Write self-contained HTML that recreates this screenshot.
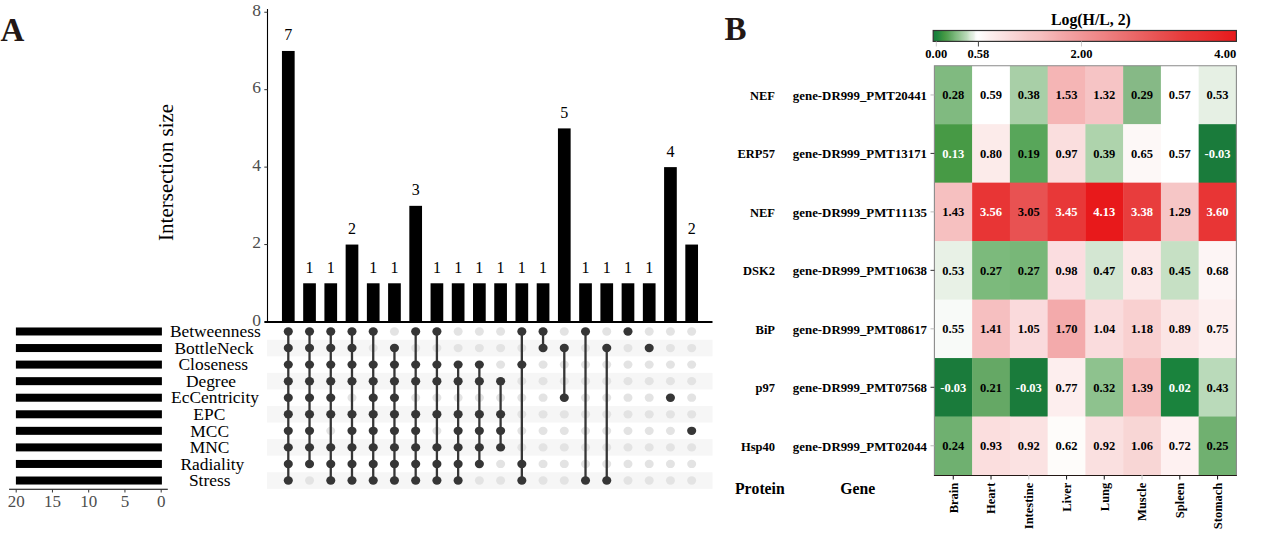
<!DOCTYPE html>
<html><head><meta charset="utf-8"><style>html,body{margin:0;padding:0;background:#fff;width:1267px;height:542px;overflow:hidden}svg{display:block}text{font-kerning:none}</style></head>
<body><svg width="1267" height="542" viewBox="0 0 1267 542">
<rect width="1267" height="542" fill="#fff"/>
<text x="0.5" y="40.5" style="font-family:'Liberation Serif',serif;font-weight:bold;font-size:33px" fill="#231815">A</text>
<line x1="267.5" y1="9" x2="267.5" y2="322.0" stroke="#000" stroke-width="1.1"/>
<line x1="264.3" y1="322.00" x2="267.5" y2="322.00" stroke="#333" stroke-width="1"/>
<text x="261" y="325.80" text-anchor="end" style="font-family:'Liberation Serif',serif;font-size:17.5px" fill="#4d4d4d">0</text>
<line x1="264.3" y1="244.56" x2="267.5" y2="244.56" stroke="#333" stroke-width="1"/>
<text x="261" y="248.36" text-anchor="end" style="font-family:'Liberation Serif',serif;font-size:17.5px" fill="#4d4d4d">2</text>
<line x1="264.3" y1="167.12" x2="267.5" y2="167.12" stroke="#333" stroke-width="1"/>
<text x="261" y="170.92" text-anchor="end" style="font-family:'Liberation Serif',serif;font-size:17.5px" fill="#4d4d4d">4</text>
<line x1="264.3" y1="89.68" x2="267.5" y2="89.68" stroke="#333" stroke-width="1"/>
<text x="261" y="93.48" text-anchor="end" style="font-family:'Liberation Serif',serif;font-size:17.5px" fill="#4d4d4d">6</text>
<line x1="264.3" y1="12.24" x2="267.5" y2="12.24" stroke="#333" stroke-width="1"/>
<text x="261" y="16.04" text-anchor="end" style="font-family:'Liberation Serif',serif;font-size:17.5px" fill="#4d4d4d">8</text>
<rect x="281.95" y="50.96" width="12.7" height="271.04" fill="#000"/>
<text x="288.30" y="40.46" text-anchor="middle" style="font-family:'Liberation Serif',serif;font-size:16px" fill="#000">7</text>
<rect x="303.18" y="283.28" width="12.7" height="38.72" fill="#000"/>
<text x="309.53" y="272.78" text-anchor="middle" style="font-family:'Liberation Serif',serif;font-size:16px" fill="#000">1</text>
<rect x="324.41" y="283.28" width="12.7" height="38.72" fill="#000"/>
<text x="330.76" y="272.78" text-anchor="middle" style="font-family:'Liberation Serif',serif;font-size:16px" fill="#000">1</text>
<rect x="345.64" y="244.56" width="12.7" height="77.44" fill="#000"/>
<text x="351.99" y="234.06" text-anchor="middle" style="font-family:'Liberation Serif',serif;font-size:16px" fill="#000">2</text>
<rect x="366.87" y="283.28" width="12.7" height="38.72" fill="#000"/>
<text x="373.22" y="272.78" text-anchor="middle" style="font-family:'Liberation Serif',serif;font-size:16px" fill="#000">1</text>
<rect x="388.10" y="283.28" width="12.7" height="38.72" fill="#000"/>
<text x="394.45" y="272.78" text-anchor="middle" style="font-family:'Liberation Serif',serif;font-size:16px" fill="#000">1</text>
<rect x="409.33" y="205.84" width="12.7" height="116.16" fill="#000"/>
<text x="415.68" y="195.34" text-anchor="middle" style="font-family:'Liberation Serif',serif;font-size:16px" fill="#000">3</text>
<rect x="430.56" y="283.28" width="12.7" height="38.72" fill="#000"/>
<text x="436.91" y="272.78" text-anchor="middle" style="font-family:'Liberation Serif',serif;font-size:16px" fill="#000">1</text>
<rect x="451.79" y="283.28" width="12.7" height="38.72" fill="#000"/>
<text x="458.14" y="272.78" text-anchor="middle" style="font-family:'Liberation Serif',serif;font-size:16px" fill="#000">1</text>
<rect x="473.02" y="283.28" width="12.7" height="38.72" fill="#000"/>
<text x="479.37" y="272.78" text-anchor="middle" style="font-family:'Liberation Serif',serif;font-size:16px" fill="#000">1</text>
<rect x="494.25" y="283.28" width="12.7" height="38.72" fill="#000"/>
<text x="500.60" y="272.78" text-anchor="middle" style="font-family:'Liberation Serif',serif;font-size:16px" fill="#000">1</text>
<rect x="515.48" y="283.28" width="12.7" height="38.72" fill="#000"/>
<text x="521.83" y="272.78" text-anchor="middle" style="font-family:'Liberation Serif',serif;font-size:16px" fill="#000">1</text>
<rect x="536.71" y="283.28" width="12.7" height="38.72" fill="#000"/>
<text x="543.06" y="272.78" text-anchor="middle" style="font-family:'Liberation Serif',serif;font-size:16px" fill="#000">1</text>
<rect x="557.94" y="128.40" width="12.7" height="193.60" fill="#000"/>
<text x="564.29" y="117.90" text-anchor="middle" style="font-family:'Liberation Serif',serif;font-size:16px" fill="#000">5</text>
<rect x="579.17" y="283.28" width="12.7" height="38.72" fill="#000"/>
<text x="585.52" y="272.78" text-anchor="middle" style="font-family:'Liberation Serif',serif;font-size:16px" fill="#000">1</text>
<rect x="600.40" y="283.28" width="12.7" height="38.72" fill="#000"/>
<text x="606.75" y="272.78" text-anchor="middle" style="font-family:'Liberation Serif',serif;font-size:16px" fill="#000">1</text>
<rect x="621.63" y="283.28" width="12.7" height="38.72" fill="#000"/>
<text x="627.98" y="272.78" text-anchor="middle" style="font-family:'Liberation Serif',serif;font-size:16px" fill="#000">1</text>
<rect x="642.86" y="283.28" width="12.7" height="38.72" fill="#000"/>
<text x="649.21" y="272.78" text-anchor="middle" style="font-family:'Liberation Serif',serif;font-size:16px" fill="#000">1</text>
<rect x="664.09" y="167.12" width="12.7" height="154.88" fill="#000"/>
<text x="670.44" y="156.62" text-anchor="middle" style="font-family:'Liberation Serif',serif;font-size:16px" fill="#000">4</text>
<rect x="685.32" y="244.56" width="12.7" height="77.44" fill="#000"/>
<text x="691.67" y="234.06" text-anchor="middle" style="font-family:'Liberation Serif',serif;font-size:16px" fill="#000">2</text>
<line x1="264.5" y1="322.0" x2="712.5" y2="322.0" stroke="#000" stroke-width="2"/>
<text transform="translate(172.6,172.4) rotate(-90)" text-anchor="middle" style="font-family:'Liberation Serif',serif;font-size:21px" fill="#000">Intersection size</text>
<rect x="267" y="339.76" width="445.5" height="16.56" fill="#f6f6f6"/>
<rect x="267" y="372.88" width="445.5" height="16.56" fill="#f6f6f6"/>
<rect x="267" y="406.00" width="445.5" height="16.56" fill="#f6f6f6"/>
<rect x="267" y="439.12" width="445.5" height="16.56" fill="#f6f6f6"/>
<rect x="267" y="472.24" width="445.5" height="16.56" fill="#f6f6f6"/>
<ellipse cx="309.53" cy="480.52" rx="4.5" ry="4.15" fill="#e3e3e3"/>
<ellipse cx="330.76" cy="430.84" rx="4.5" ry="4.15" fill="#e3e3e3"/>
<ellipse cx="351.99" cy="397.72" rx="4.5" ry="4.15" fill="#e3e3e3"/>
<ellipse cx="373.22" cy="348.04" rx="4.5" ry="4.15" fill="#e3e3e3"/>
<ellipse cx="394.45" cy="331.48" rx="4.5" ry="4.15" fill="#e3e3e3"/>
<ellipse cx="415.68" cy="348.04" rx="4.5" ry="4.15" fill="#e3e3e3"/>
<ellipse cx="415.68" cy="397.72" rx="4.5" ry="4.15" fill="#e3e3e3"/>
<ellipse cx="436.91" cy="348.04" rx="4.5" ry="4.15" fill="#e3e3e3"/>
<ellipse cx="436.91" cy="397.72" rx="4.5" ry="4.15" fill="#e3e3e3"/>
<ellipse cx="436.91" cy="430.84" rx="4.5" ry="4.15" fill="#e3e3e3"/>
<ellipse cx="458.14" cy="331.48" rx="4.5" ry="4.15" fill="#e3e3e3"/>
<ellipse cx="458.14" cy="348.04" rx="4.5" ry="4.15" fill="#e3e3e3"/>
<ellipse cx="458.14" cy="397.72" rx="4.5" ry="4.15" fill="#e3e3e3"/>
<ellipse cx="479.37" cy="331.48" rx="4.5" ry="4.15" fill="#e3e3e3"/>
<ellipse cx="479.37" cy="348.04" rx="4.5" ry="4.15" fill="#e3e3e3"/>
<ellipse cx="479.37" cy="397.72" rx="4.5" ry="4.15" fill="#e3e3e3"/>
<ellipse cx="479.37" cy="480.52" rx="4.5" ry="4.15" fill="#e3e3e3"/>
<ellipse cx="500.60" cy="331.48" rx="4.5" ry="4.15" fill="#e3e3e3"/>
<ellipse cx="500.60" cy="348.04" rx="4.5" ry="4.15" fill="#e3e3e3"/>
<ellipse cx="500.60" cy="364.60" rx="4.5" ry="4.15" fill="#e3e3e3"/>
<ellipse cx="500.60" cy="397.72" rx="4.5" ry="4.15" fill="#e3e3e3"/>
<ellipse cx="500.60" cy="463.96" rx="4.5" ry="4.15" fill="#e3e3e3"/>
<ellipse cx="500.60" cy="480.52" rx="4.5" ry="4.15" fill="#e3e3e3"/>
<ellipse cx="521.83" cy="348.04" rx="4.5" ry="4.15" fill="#e3e3e3"/>
<ellipse cx="521.83" cy="381.16" rx="4.5" ry="4.15" fill="#e3e3e3"/>
<ellipse cx="521.83" cy="397.72" rx="4.5" ry="4.15" fill="#e3e3e3"/>
<ellipse cx="521.83" cy="414.28" rx="4.5" ry="4.15" fill="#e3e3e3"/>
<ellipse cx="521.83" cy="430.84" rx="4.5" ry="4.15" fill="#e3e3e3"/>
<ellipse cx="521.83" cy="447.40" rx="4.5" ry="4.15" fill="#e3e3e3"/>
<ellipse cx="543.06" cy="364.60" rx="4.5" ry="4.15" fill="#e3e3e3"/>
<ellipse cx="543.06" cy="381.16" rx="4.5" ry="4.15" fill="#e3e3e3"/>
<ellipse cx="543.06" cy="397.72" rx="4.5" ry="4.15" fill="#e3e3e3"/>
<ellipse cx="543.06" cy="414.28" rx="4.5" ry="4.15" fill="#e3e3e3"/>
<ellipse cx="543.06" cy="430.84" rx="4.5" ry="4.15" fill="#e3e3e3"/>
<ellipse cx="543.06" cy="447.40" rx="4.5" ry="4.15" fill="#e3e3e3"/>
<ellipse cx="543.06" cy="463.96" rx="4.5" ry="4.15" fill="#e3e3e3"/>
<ellipse cx="543.06" cy="480.52" rx="4.5" ry="4.15" fill="#e3e3e3"/>
<ellipse cx="564.29" cy="331.48" rx="4.5" ry="4.15" fill="#e3e3e3"/>
<ellipse cx="564.29" cy="364.60" rx="4.5" ry="4.15" fill="#e3e3e3"/>
<ellipse cx="564.29" cy="381.16" rx="4.5" ry="4.15" fill="#e3e3e3"/>
<ellipse cx="564.29" cy="414.28" rx="4.5" ry="4.15" fill="#e3e3e3"/>
<ellipse cx="564.29" cy="430.84" rx="4.5" ry="4.15" fill="#e3e3e3"/>
<ellipse cx="564.29" cy="447.40" rx="4.5" ry="4.15" fill="#e3e3e3"/>
<ellipse cx="564.29" cy="463.96" rx="4.5" ry="4.15" fill="#e3e3e3"/>
<ellipse cx="564.29" cy="480.52" rx="4.5" ry="4.15" fill="#e3e3e3"/>
<ellipse cx="585.52" cy="348.04" rx="4.5" ry="4.15" fill="#e3e3e3"/>
<ellipse cx="585.52" cy="364.60" rx="4.5" ry="4.15" fill="#e3e3e3"/>
<ellipse cx="585.52" cy="381.16" rx="4.5" ry="4.15" fill="#e3e3e3"/>
<ellipse cx="585.52" cy="397.72" rx="4.5" ry="4.15" fill="#e3e3e3"/>
<ellipse cx="585.52" cy="414.28" rx="4.5" ry="4.15" fill="#e3e3e3"/>
<ellipse cx="585.52" cy="430.84" rx="4.5" ry="4.15" fill="#e3e3e3"/>
<ellipse cx="585.52" cy="447.40" rx="4.5" ry="4.15" fill="#e3e3e3"/>
<ellipse cx="585.52" cy="463.96" rx="4.5" ry="4.15" fill="#e3e3e3"/>
<ellipse cx="606.75" cy="331.48" rx="4.5" ry="4.15" fill="#e3e3e3"/>
<ellipse cx="606.75" cy="364.60" rx="4.5" ry="4.15" fill="#e3e3e3"/>
<ellipse cx="606.75" cy="381.16" rx="4.5" ry="4.15" fill="#e3e3e3"/>
<ellipse cx="606.75" cy="397.72" rx="4.5" ry="4.15" fill="#e3e3e3"/>
<ellipse cx="606.75" cy="414.28" rx="4.5" ry="4.15" fill="#e3e3e3"/>
<ellipse cx="606.75" cy="430.84" rx="4.5" ry="4.15" fill="#e3e3e3"/>
<ellipse cx="606.75" cy="447.40" rx="4.5" ry="4.15" fill="#e3e3e3"/>
<ellipse cx="606.75" cy="463.96" rx="4.5" ry="4.15" fill="#e3e3e3"/>
<ellipse cx="627.98" cy="348.04" rx="4.5" ry="4.15" fill="#e3e3e3"/>
<ellipse cx="627.98" cy="364.60" rx="4.5" ry="4.15" fill="#e3e3e3"/>
<ellipse cx="627.98" cy="381.16" rx="4.5" ry="4.15" fill="#e3e3e3"/>
<ellipse cx="627.98" cy="397.72" rx="4.5" ry="4.15" fill="#e3e3e3"/>
<ellipse cx="627.98" cy="414.28" rx="4.5" ry="4.15" fill="#e3e3e3"/>
<ellipse cx="627.98" cy="430.84" rx="4.5" ry="4.15" fill="#e3e3e3"/>
<ellipse cx="627.98" cy="447.40" rx="4.5" ry="4.15" fill="#e3e3e3"/>
<ellipse cx="627.98" cy="463.96" rx="4.5" ry="4.15" fill="#e3e3e3"/>
<ellipse cx="627.98" cy="480.52" rx="4.5" ry="4.15" fill="#e3e3e3"/>
<ellipse cx="649.21" cy="331.48" rx="4.5" ry="4.15" fill="#e3e3e3"/>
<ellipse cx="649.21" cy="364.60" rx="4.5" ry="4.15" fill="#e3e3e3"/>
<ellipse cx="649.21" cy="381.16" rx="4.5" ry="4.15" fill="#e3e3e3"/>
<ellipse cx="649.21" cy="397.72" rx="4.5" ry="4.15" fill="#e3e3e3"/>
<ellipse cx="649.21" cy="414.28" rx="4.5" ry="4.15" fill="#e3e3e3"/>
<ellipse cx="649.21" cy="430.84" rx="4.5" ry="4.15" fill="#e3e3e3"/>
<ellipse cx="649.21" cy="447.40" rx="4.5" ry="4.15" fill="#e3e3e3"/>
<ellipse cx="649.21" cy="463.96" rx="4.5" ry="4.15" fill="#e3e3e3"/>
<ellipse cx="649.21" cy="480.52" rx="4.5" ry="4.15" fill="#e3e3e3"/>
<ellipse cx="670.44" cy="331.48" rx="4.5" ry="4.15" fill="#e3e3e3"/>
<ellipse cx="670.44" cy="348.04" rx="4.5" ry="4.15" fill="#e3e3e3"/>
<ellipse cx="670.44" cy="364.60" rx="4.5" ry="4.15" fill="#e3e3e3"/>
<ellipse cx="670.44" cy="381.16" rx="4.5" ry="4.15" fill="#e3e3e3"/>
<ellipse cx="670.44" cy="414.28" rx="4.5" ry="4.15" fill="#e3e3e3"/>
<ellipse cx="670.44" cy="430.84" rx="4.5" ry="4.15" fill="#e3e3e3"/>
<ellipse cx="670.44" cy="447.40" rx="4.5" ry="4.15" fill="#e3e3e3"/>
<ellipse cx="670.44" cy="463.96" rx="4.5" ry="4.15" fill="#e3e3e3"/>
<ellipse cx="670.44" cy="480.52" rx="4.5" ry="4.15" fill="#e3e3e3"/>
<ellipse cx="691.67" cy="331.48" rx="4.5" ry="4.15" fill="#e3e3e3"/>
<ellipse cx="691.67" cy="348.04" rx="4.5" ry="4.15" fill="#e3e3e3"/>
<ellipse cx="691.67" cy="364.60" rx="4.5" ry="4.15" fill="#e3e3e3"/>
<ellipse cx="691.67" cy="381.16" rx="4.5" ry="4.15" fill="#e3e3e3"/>
<ellipse cx="691.67" cy="397.72" rx="4.5" ry="4.15" fill="#e3e3e3"/>
<ellipse cx="691.67" cy="414.28" rx="4.5" ry="4.15" fill="#e3e3e3"/>
<ellipse cx="691.67" cy="447.40" rx="4.5" ry="4.15" fill="#e3e3e3"/>
<ellipse cx="691.67" cy="463.96" rx="4.5" ry="4.15" fill="#e3e3e3"/>
<ellipse cx="691.67" cy="480.52" rx="4.5" ry="4.15" fill="#e3e3e3"/>
<line x1="288.30" y1="331.48" x2="288.30" y2="480.52" stroke="#363636" stroke-width="2.3"/>
<ellipse cx="288.30" cy="331.48" rx="4.55" ry="4.2" fill="#363636"/>
<ellipse cx="288.30" cy="348.04" rx="4.55" ry="4.2" fill="#363636"/>
<ellipse cx="288.30" cy="364.60" rx="4.55" ry="4.2" fill="#363636"/>
<ellipse cx="288.30" cy="381.16" rx="4.55" ry="4.2" fill="#363636"/>
<ellipse cx="288.30" cy="397.72" rx="4.55" ry="4.2" fill="#363636"/>
<ellipse cx="288.30" cy="414.28" rx="4.55" ry="4.2" fill="#363636"/>
<ellipse cx="288.30" cy="430.84" rx="4.55" ry="4.2" fill="#363636"/>
<ellipse cx="288.30" cy="447.40" rx="4.55" ry="4.2" fill="#363636"/>
<ellipse cx="288.30" cy="463.96" rx="4.55" ry="4.2" fill="#363636"/>
<ellipse cx="288.30" cy="480.52" rx="4.55" ry="4.2" fill="#363636"/>
<line x1="309.53" y1="331.48" x2="309.53" y2="463.96" stroke="#363636" stroke-width="2.3"/>
<ellipse cx="309.53" cy="331.48" rx="4.55" ry="4.2" fill="#363636"/>
<ellipse cx="309.53" cy="348.04" rx="4.55" ry="4.2" fill="#363636"/>
<ellipse cx="309.53" cy="364.60" rx="4.55" ry="4.2" fill="#363636"/>
<ellipse cx="309.53" cy="381.16" rx="4.55" ry="4.2" fill="#363636"/>
<ellipse cx="309.53" cy="397.72" rx="4.55" ry="4.2" fill="#363636"/>
<ellipse cx="309.53" cy="414.28" rx="4.55" ry="4.2" fill="#363636"/>
<ellipse cx="309.53" cy="430.84" rx="4.55" ry="4.2" fill="#363636"/>
<ellipse cx="309.53" cy="447.40" rx="4.55" ry="4.2" fill="#363636"/>
<ellipse cx="309.53" cy="463.96" rx="4.55" ry="4.2" fill="#363636"/>
<line x1="330.76" y1="331.48" x2="330.76" y2="480.52" stroke="#363636" stroke-width="2.3"/>
<ellipse cx="330.76" cy="331.48" rx="4.55" ry="4.2" fill="#363636"/>
<ellipse cx="330.76" cy="348.04" rx="4.55" ry="4.2" fill="#363636"/>
<ellipse cx="330.76" cy="364.60" rx="4.55" ry="4.2" fill="#363636"/>
<ellipse cx="330.76" cy="381.16" rx="4.55" ry="4.2" fill="#363636"/>
<ellipse cx="330.76" cy="397.72" rx="4.55" ry="4.2" fill="#363636"/>
<ellipse cx="330.76" cy="414.28" rx="4.55" ry="4.2" fill="#363636"/>
<ellipse cx="330.76" cy="447.40" rx="4.55" ry="4.2" fill="#363636"/>
<ellipse cx="330.76" cy="463.96" rx="4.55" ry="4.2" fill="#363636"/>
<ellipse cx="330.76" cy="480.52" rx="4.55" ry="4.2" fill="#363636"/>
<line x1="351.99" y1="331.48" x2="351.99" y2="480.52" stroke="#363636" stroke-width="2.3"/>
<ellipse cx="351.99" cy="331.48" rx="4.55" ry="4.2" fill="#363636"/>
<ellipse cx="351.99" cy="348.04" rx="4.55" ry="4.2" fill="#363636"/>
<ellipse cx="351.99" cy="364.60" rx="4.55" ry="4.2" fill="#363636"/>
<ellipse cx="351.99" cy="381.16" rx="4.55" ry="4.2" fill="#363636"/>
<ellipse cx="351.99" cy="414.28" rx="4.55" ry="4.2" fill="#363636"/>
<ellipse cx="351.99" cy="430.84" rx="4.55" ry="4.2" fill="#363636"/>
<ellipse cx="351.99" cy="447.40" rx="4.55" ry="4.2" fill="#363636"/>
<ellipse cx="351.99" cy="463.96" rx="4.55" ry="4.2" fill="#363636"/>
<ellipse cx="351.99" cy="480.52" rx="4.55" ry="4.2" fill="#363636"/>
<line x1="373.22" y1="331.48" x2="373.22" y2="480.52" stroke="#363636" stroke-width="2.3"/>
<ellipse cx="373.22" cy="331.48" rx="4.55" ry="4.2" fill="#363636"/>
<ellipse cx="373.22" cy="364.60" rx="4.55" ry="4.2" fill="#363636"/>
<ellipse cx="373.22" cy="381.16" rx="4.55" ry="4.2" fill="#363636"/>
<ellipse cx="373.22" cy="397.72" rx="4.55" ry="4.2" fill="#363636"/>
<ellipse cx="373.22" cy="414.28" rx="4.55" ry="4.2" fill="#363636"/>
<ellipse cx="373.22" cy="430.84" rx="4.55" ry="4.2" fill="#363636"/>
<ellipse cx="373.22" cy="447.40" rx="4.55" ry="4.2" fill="#363636"/>
<ellipse cx="373.22" cy="463.96" rx="4.55" ry="4.2" fill="#363636"/>
<ellipse cx="373.22" cy="480.52" rx="4.55" ry="4.2" fill="#363636"/>
<line x1="394.45" y1="348.04" x2="394.45" y2="480.52" stroke="#363636" stroke-width="2.3"/>
<ellipse cx="394.45" cy="348.04" rx="4.55" ry="4.2" fill="#363636"/>
<ellipse cx="394.45" cy="364.60" rx="4.55" ry="4.2" fill="#363636"/>
<ellipse cx="394.45" cy="381.16" rx="4.55" ry="4.2" fill="#363636"/>
<ellipse cx="394.45" cy="397.72" rx="4.55" ry="4.2" fill="#363636"/>
<ellipse cx="394.45" cy="414.28" rx="4.55" ry="4.2" fill="#363636"/>
<ellipse cx="394.45" cy="430.84" rx="4.55" ry="4.2" fill="#363636"/>
<ellipse cx="394.45" cy="447.40" rx="4.55" ry="4.2" fill="#363636"/>
<ellipse cx="394.45" cy="463.96" rx="4.55" ry="4.2" fill="#363636"/>
<ellipse cx="394.45" cy="480.52" rx="4.55" ry="4.2" fill="#363636"/>
<line x1="415.68" y1="331.48" x2="415.68" y2="480.52" stroke="#363636" stroke-width="2.3"/>
<ellipse cx="415.68" cy="331.48" rx="4.55" ry="4.2" fill="#363636"/>
<ellipse cx="415.68" cy="364.60" rx="4.55" ry="4.2" fill="#363636"/>
<ellipse cx="415.68" cy="381.16" rx="4.55" ry="4.2" fill="#363636"/>
<ellipse cx="415.68" cy="414.28" rx="4.55" ry="4.2" fill="#363636"/>
<ellipse cx="415.68" cy="430.84" rx="4.55" ry="4.2" fill="#363636"/>
<ellipse cx="415.68" cy="447.40" rx="4.55" ry="4.2" fill="#363636"/>
<ellipse cx="415.68" cy="463.96" rx="4.55" ry="4.2" fill="#363636"/>
<ellipse cx="415.68" cy="480.52" rx="4.55" ry="4.2" fill="#363636"/>
<line x1="436.91" y1="331.48" x2="436.91" y2="480.52" stroke="#363636" stroke-width="2.3"/>
<ellipse cx="436.91" cy="331.48" rx="4.55" ry="4.2" fill="#363636"/>
<ellipse cx="436.91" cy="364.60" rx="4.55" ry="4.2" fill="#363636"/>
<ellipse cx="436.91" cy="381.16" rx="4.55" ry="4.2" fill="#363636"/>
<ellipse cx="436.91" cy="414.28" rx="4.55" ry="4.2" fill="#363636"/>
<ellipse cx="436.91" cy="447.40" rx="4.55" ry="4.2" fill="#363636"/>
<ellipse cx="436.91" cy="463.96" rx="4.55" ry="4.2" fill="#363636"/>
<ellipse cx="436.91" cy="480.52" rx="4.55" ry="4.2" fill="#363636"/>
<line x1="458.14" y1="364.60" x2="458.14" y2="480.52" stroke="#363636" stroke-width="2.3"/>
<ellipse cx="458.14" cy="364.60" rx="4.55" ry="4.2" fill="#363636"/>
<ellipse cx="458.14" cy="381.16" rx="4.55" ry="4.2" fill="#363636"/>
<ellipse cx="458.14" cy="414.28" rx="4.55" ry="4.2" fill="#363636"/>
<ellipse cx="458.14" cy="430.84" rx="4.55" ry="4.2" fill="#363636"/>
<ellipse cx="458.14" cy="447.40" rx="4.55" ry="4.2" fill="#363636"/>
<ellipse cx="458.14" cy="463.96" rx="4.55" ry="4.2" fill="#363636"/>
<ellipse cx="458.14" cy="480.52" rx="4.55" ry="4.2" fill="#363636"/>
<line x1="479.37" y1="364.60" x2="479.37" y2="463.96" stroke="#363636" stroke-width="2.3"/>
<ellipse cx="479.37" cy="364.60" rx="4.55" ry="4.2" fill="#363636"/>
<ellipse cx="479.37" cy="381.16" rx="4.55" ry="4.2" fill="#363636"/>
<ellipse cx="479.37" cy="414.28" rx="4.55" ry="4.2" fill="#363636"/>
<ellipse cx="479.37" cy="430.84" rx="4.55" ry="4.2" fill="#363636"/>
<ellipse cx="479.37" cy="447.40" rx="4.55" ry="4.2" fill="#363636"/>
<ellipse cx="479.37" cy="463.96" rx="4.55" ry="4.2" fill="#363636"/>
<line x1="500.60" y1="381.16" x2="500.60" y2="447.40" stroke="#363636" stroke-width="2.3"/>
<ellipse cx="500.60" cy="381.16" rx="4.55" ry="4.2" fill="#363636"/>
<ellipse cx="500.60" cy="414.28" rx="4.55" ry="4.2" fill="#363636"/>
<ellipse cx="500.60" cy="430.84" rx="4.55" ry="4.2" fill="#363636"/>
<ellipse cx="500.60" cy="447.40" rx="4.55" ry="4.2" fill="#363636"/>
<line x1="521.83" y1="331.48" x2="521.83" y2="480.52" stroke="#363636" stroke-width="2.3"/>
<ellipse cx="521.83" cy="331.48" rx="4.55" ry="4.2" fill="#363636"/>
<ellipse cx="521.83" cy="364.60" rx="4.55" ry="4.2" fill="#363636"/>
<ellipse cx="521.83" cy="463.96" rx="4.55" ry="4.2" fill="#363636"/>
<ellipse cx="521.83" cy="480.52" rx="4.55" ry="4.2" fill="#363636"/>
<line x1="543.06" y1="331.48" x2="543.06" y2="348.04" stroke="#363636" stroke-width="2.3"/>
<ellipse cx="543.06" cy="331.48" rx="4.55" ry="4.2" fill="#363636"/>
<ellipse cx="543.06" cy="348.04" rx="4.55" ry="4.2" fill="#363636"/>
<line x1="564.29" y1="348.04" x2="564.29" y2="397.72" stroke="#363636" stroke-width="2.3"/>
<ellipse cx="564.29" cy="348.04" rx="4.55" ry="4.2" fill="#363636"/>
<ellipse cx="564.29" cy="397.72" rx="4.55" ry="4.2" fill="#363636"/>
<line x1="585.52" y1="331.48" x2="585.52" y2="480.52" stroke="#363636" stroke-width="2.3"/>
<ellipse cx="585.52" cy="331.48" rx="4.55" ry="4.2" fill="#363636"/>
<ellipse cx="585.52" cy="480.52" rx="4.55" ry="4.2" fill="#363636"/>
<line x1="606.75" y1="348.04" x2="606.75" y2="480.52" stroke="#363636" stroke-width="2.3"/>
<ellipse cx="606.75" cy="348.04" rx="4.55" ry="4.2" fill="#363636"/>
<ellipse cx="606.75" cy="480.52" rx="4.55" ry="4.2" fill="#363636"/>
<ellipse cx="627.98" cy="331.48" rx="4.55" ry="4.2" fill="#363636"/>
<ellipse cx="649.21" cy="348.04" rx="4.55" ry="4.2" fill="#363636"/>
<ellipse cx="670.44" cy="397.72" rx="4.55" ry="4.2" fill="#363636"/>
<ellipse cx="691.67" cy="430.84" rx="4.55" ry="4.2" fill="#363636"/>
<rect x="15.9" y="327.48" width="146" height="8" fill="#000"/>
<text x="215.30" y="337.18" text-anchor="middle" style="font-family:'Liberation Serif',serif;font-size:17.4px" fill="#000">Betweenness</text>
<rect x="15.9" y="344.04" width="146" height="8" fill="#000"/>
<text x="214.10" y="353.74" text-anchor="middle" style="font-family:'Liberation Serif',serif;font-size:17.4px" fill="#000">BottleNeck</text>
<rect x="15.9" y="360.60" width="146" height="8" fill="#000"/>
<text x="213.30" y="370.30" text-anchor="middle" style="font-family:'Liberation Serif',serif;font-size:17.4px" fill="#000">Closeness</text>
<rect x="15.9" y="377.16" width="146" height="8" fill="#000"/>
<text x="211.00" y="386.86" text-anchor="middle" style="font-family:'Liberation Serif',serif;font-size:17.4px" fill="#000">Degree</text>
<rect x="15.9" y="393.72" width="146" height="8" fill="#000"/>
<text x="215.00" y="403.42" text-anchor="middle" style="font-family:'Liberation Serif',serif;font-size:17.4px" fill="#000">EcCentricity</text>
<rect x="15.9" y="410.28" width="146" height="8" fill="#000"/>
<text x="209.30" y="419.98" text-anchor="middle" style="font-family:'Liberation Serif',serif;font-size:17.4px" fill="#000">EPC</text>
<rect x="15.9" y="426.84" width="146" height="8" fill="#000"/>
<text x="209.70" y="436.54" text-anchor="middle" style="font-family:'Liberation Serif',serif;font-size:17.4px" fill="#000">MCC</text>
<rect x="15.9" y="443.40" width="146" height="8" fill="#000"/>
<text x="209.50" y="453.10" text-anchor="middle" style="font-family:'Liberation Serif',serif;font-size:17.4px" fill="#000">MNC</text>
<rect x="15.9" y="459.96" width="146" height="8" fill="#000"/>
<text x="212.40" y="469.66" text-anchor="middle" style="font-family:'Liberation Serif',serif;font-size:17.4px" fill="#000">Radiality</text>
<rect x="15.9" y="476.52" width="146" height="8" fill="#000"/>
<text x="209.70" y="486.22" text-anchor="middle" style="font-family:'Liberation Serif',serif;font-size:17.4px" fill="#000">Stress</text>
<line x1="9.1" y1="489.3" x2="167.8" y2="489.3" stroke="#000" stroke-width="1.1"/>
<line x1="16.20" y1="489.3" x2="16.20" y2="492.5" stroke="#333" stroke-width="1"/>
<text x="16.20" y="506.6" text-anchor="middle" style="font-family:'Liberation Serif',serif;font-size:17px" fill="#4d4d4d">20</text>
<line x1="52.45" y1="489.3" x2="52.45" y2="492.5" stroke="#333" stroke-width="1"/>
<text x="52.45" y="506.6" text-anchor="middle" style="font-family:'Liberation Serif',serif;font-size:17px" fill="#4d4d4d">15</text>
<line x1="88.70" y1="489.3" x2="88.70" y2="492.5" stroke="#333" stroke-width="1"/>
<text x="88.70" y="506.6" text-anchor="middle" style="font-family:'Liberation Serif',serif;font-size:17px" fill="#4d4d4d">10</text>
<line x1="124.95" y1="489.3" x2="124.95" y2="492.5" stroke="#333" stroke-width="1"/>
<text x="124.95" y="506.6" text-anchor="middle" style="font-family:'Liberation Serif',serif;font-size:17px" fill="#4d4d4d">5</text>
<line x1="161.20" y1="489.3" x2="161.20" y2="492.5" stroke="#333" stroke-width="1"/>
<text x="161.20" y="506.6" text-anchor="middle" style="font-family:'Liberation Serif',serif;font-size:17px" fill="#4d4d4d">0</text>
<text x="724.5" y="40" style="font-family:'Liberation Serif',serif;font-weight:bold;font-size:33px" fill="#231815">B</text>
<text x="1051" y="24.9" style="font-family:'Liberation Serif',serif;font-weight:bold;font-size:15.8px" fill="#000">Log(H/L, 2)</text>
<defs><linearGradient id="cbg" x1="0" y1="0" x2="1" y2="0"><stop offset="0.0000" stop-color="#1a7b3b"/><stop offset="0.0050" stop-color="#1a7e3c"/><stop offset="0.0100" stop-color="#1a823d"/><stop offset="0.0150" stop-color="#1f863e"/><stop offset="0.0200" stop-color="#288a3f"/><stop offset="0.0250" stop-color="#308e41"/><stop offset="0.0300" stop-color="#399342"/><stop offset="0.0350" stop-color="#419744"/><stop offset="0.0400" stop-color="#499b47"/><stop offset="0.0450" stop-color="#4f9f4f"/><stop offset="0.0500" stop-color="#55a456"/><stop offset="0.0550" stop-color="#5ea75f"/><stop offset="0.0600" stop-color="#68ab69"/><stop offset="0.0650" stop-color="#6fb070"/><stop offset="0.0700" stop-color="#78b778"/><stop offset="0.0750" stop-color="#80bc80"/><stop offset="0.0800" stop-color="#88bf88"/><stop offset="0.0850" stop-color="#90c38f"/><stop offset="0.0900" stop-color="#99c798"/><stop offset="0.0950" stop-color="#a2cca1"/><stop offset="0.1000" stop-color="#aad0a9"/><stop offset="0.1050" stop-color="#b2d5b1"/><stop offset="0.1100" stop-color="#b9d9b9"/><stop offset="0.1150" stop-color="#c5e0c3"/><stop offset="0.1200" stop-color="#d2e6d1"/><stop offset="0.1250" stop-color="#daead9"/><stop offset="0.1300" stop-color="#e1ede0"/><stop offset="0.1350" stop-color="#e9f2e7"/><stop offset="0.1400" stop-color="#f9faf9"/><stop offset="0.1450" stop-color="#fdfefd"/><stop offset="0.1500" stop-color="#fffefd"/><stop offset="0.1550" stop-color="#fefcfb"/><stop offset="0.1600" stop-color="#fdfaf9"/><stop offset="0.1650" stop-color="#fdf8f7"/><stop offset="0.1700" stop-color="#fdf6f5"/><stop offset="0.1750" stop-color="#fdf4f3"/><stop offset="0.1800" stop-color="#fdf2f1"/><stop offset="0.1850" stop-color="#fcf0ef"/><stop offset="0.1900" stop-color="#fceeed"/><stop offset="0.1950" stop-color="#fcedec"/><stop offset="0.2000" stop-color="#fcebea"/><stop offset="0.2050" stop-color="#fce9e8"/><stop offset="0.2100" stop-color="#fbe8e7"/><stop offset="0.2150" stop-color="#fbe6e5"/><stop offset="0.2200" stop-color="#fbe5e4"/><stop offset="0.2250" stop-color="#fbe3e3"/><stop offset="0.2300" stop-color="#fbe1e1"/><stop offset="0.2350" stop-color="#fae0e0"/><stop offset="0.2400" stop-color="#fadede"/><stop offset="0.2450" stop-color="#fadddd"/><stop offset="0.2500" stop-color="#fadbdb"/><stop offset="0.2550" stop-color="#f9d9d9"/><stop offset="0.2600" stop-color="#f9d8d8"/><stop offset="0.2650" stop-color="#f9d6d6"/><stop offset="0.2700" stop-color="#f8d5d5"/><stop offset="0.2750" stop-color="#f8d3d3"/><stop offset="0.2800" stop-color="#f8d2d2"/><stop offset="0.2850" stop-color="#f8d0d0"/><stop offset="0.2900" stop-color="#f7cfcf"/><stop offset="0.2950" stop-color="#f7cdcd"/><stop offset="0.3000" stop-color="#f7cbcb"/><stop offset="0.3050" stop-color="#f7caca"/><stop offset="0.3100" stop-color="#f6c8c8"/><stop offset="0.3150" stop-color="#f6c7c7"/><stop offset="0.3200" stop-color="#f6c6c6"/><stop offset="0.3250" stop-color="#f6c5c5"/><stop offset="0.3300" stop-color="#f6c4c4"/><stop offset="0.3350" stop-color="#f6c3c3"/><stop offset="0.3400" stop-color="#f6c2c2"/><stop offset="0.3450" stop-color="#f6c1c1"/><stop offset="0.3500" stop-color="#f6c0c0"/><stop offset="0.3550" stop-color="#f6bfbf"/><stop offset="0.3600" stop-color="#f6bdbd"/><stop offset="0.3650" stop-color="#f5bbbb"/><stop offset="0.3700" stop-color="#f5b9ba"/><stop offset="0.3750" stop-color="#f5b8b8"/><stop offset="0.3800" stop-color="#f5b6b6"/><stop offset="0.3850" stop-color="#f4b4b5"/><stop offset="0.3900" stop-color="#f4b3b3"/><stop offset="0.3950" stop-color="#f4b1b2"/><stop offset="0.4000" stop-color="#f4afb0"/><stop offset="0.4050" stop-color="#f3aeae"/><stop offset="0.4100" stop-color="#f3acad"/><stop offset="0.4150" stop-color="#f3aaab"/><stop offset="0.4200" stop-color="#f3a9aa"/><stop offset="0.4250" stop-color="#f3a7a8"/><stop offset="0.4300" stop-color="#f3a6a7"/><stop offset="0.4350" stop-color="#f2a5a6"/><stop offset="0.4400" stop-color="#f2a3a4"/><stop offset="0.4450" stop-color="#f2a2a3"/><stop offset="0.4500" stop-color="#f2a1a2"/><stop offset="0.4550" stop-color="#f29fa0"/><stop offset="0.4600" stop-color="#f19e9f"/><stop offset="0.4650" stop-color="#f19d9d"/><stop offset="0.4700" stop-color="#f19b9c"/><stop offset="0.4750" stop-color="#f19a9b"/><stop offset="0.4800" stop-color="#f19999"/><stop offset="0.4850" stop-color="#f19798"/><stop offset="0.4900" stop-color="#f09697"/><stop offset="0.4950" stop-color="#f09495"/><stop offset="0.5000" stop-color="#f09394"/><stop offset="0.5050" stop-color="#f09292"/><stop offset="0.5100" stop-color="#f09091"/><stop offset="0.5150" stop-color="#f08f90"/><stop offset="0.5200" stop-color="#ef8e8e"/><stop offset="0.5250" stop-color="#ef8c8d"/><stop offset="0.5300" stop-color="#ef8b8c"/><stop offset="0.5350" stop-color="#ef8a8a"/><stop offset="0.5400" stop-color="#ef8889"/><stop offset="0.5450" stop-color="#ef8788"/><stop offset="0.5500" stop-color="#ee8686"/><stop offset="0.5550" stop-color="#ee8485"/><stop offset="0.5600" stop-color="#ee8383"/><stop offset="0.5650" stop-color="#ee8282"/><stop offset="0.5700" stop-color="#ee8081"/><stop offset="0.5750" stop-color="#ee7f7f"/><stop offset="0.5800" stop-color="#ed7d7e"/><stop offset="0.5850" stop-color="#ed7c7d"/><stop offset="0.5900" stop-color="#ed7b7b"/><stop offset="0.5950" stop-color="#ed797a"/><stop offset="0.6000" stop-color="#ed7878"/><stop offset="0.6050" stop-color="#ed7777"/><stop offset="0.6100" stop-color="#ec7576"/><stop offset="0.6150" stop-color="#ec7474"/><stop offset="0.6200" stop-color="#ec7373"/><stop offset="0.6250" stop-color="#ec7172"/><stop offset="0.6300" stop-color="#ec7070"/><stop offset="0.6350" stop-color="#ec6f6f"/><stop offset="0.6400" stop-color="#eb6d6e"/><stop offset="0.6450" stop-color="#eb6c6c"/><stop offset="0.6500" stop-color="#eb6b6b"/><stop offset="0.6550" stop-color="#eb6969"/><stop offset="0.6600" stop-color="#eb6868"/><stop offset="0.6650" stop-color="#eb6667"/><stop offset="0.6700" stop-color="#ea6565"/><stop offset="0.6750" stop-color="#ea6464"/><stop offset="0.6800" stop-color="#ea6263"/><stop offset="0.6850" stop-color="#ea6161"/><stop offset="0.6900" stop-color="#ea6060"/><stop offset="0.6950" stop-color="#ea5e5e"/><stop offset="0.7000" stop-color="#e95d5d"/><stop offset="0.7050" stop-color="#e95c5c"/><stop offset="0.7100" stop-color="#e95a5a"/><stop offset="0.7150" stop-color="#e95959"/><stop offset="0.7200" stop-color="#e95858"/><stop offset="0.7250" stop-color="#e95656"/><stop offset="0.7300" stop-color="#e85555"/><stop offset="0.7350" stop-color="#e85454"/><stop offset="0.7400" stop-color="#e85252"/><stop offset="0.7450" stop-color="#e85151"/><stop offset="0.7500" stop-color="#e84f4f"/><stop offset="0.7550" stop-color="#e84e4e"/><stop offset="0.7600" stop-color="#e84d4d"/><stop offset="0.7650" stop-color="#e84b4b"/><stop offset="0.7700" stop-color="#e84a4a"/><stop offset="0.7750" stop-color="#e84949"/><stop offset="0.7800" stop-color="#e84747"/><stop offset="0.7850" stop-color="#e84646"/><stop offset="0.7900" stop-color="#e84545"/><stop offset="0.7950" stop-color="#e84343"/><stop offset="0.8000" stop-color="#e84242"/><stop offset="0.8050" stop-color="#e84040"/><stop offset="0.8100" stop-color="#e83f3f"/><stop offset="0.8150" stop-color="#e83e3e"/><stop offset="0.8200" stop-color="#e83c3c"/><stop offset="0.8250" stop-color="#e83b3b"/><stop offset="0.8300" stop-color="#e83a3a"/><stop offset="0.8350" stop-color="#e83838"/><stop offset="0.8400" stop-color="#e83838"/><stop offset="0.8450" stop-color="#e83737"/><stop offset="0.8500" stop-color="#e83737"/><stop offset="0.8550" stop-color="#e83636"/><stop offset="0.8600" stop-color="#e83636"/><stop offset="0.8650" stop-color="#e83535"/><stop offset="0.8700" stop-color="#e83535"/><stop offset="0.8750" stop-color="#e83334"/><stop offset="0.8800" stop-color="#e83233"/><stop offset="0.8850" stop-color="#e83132"/><stop offset="0.8900" stop-color="#e83031"/><stop offset="0.8950" stop-color="#e82f30"/><stop offset="0.9000" stop-color="#e82e2f"/><stop offset="0.9050" stop-color="#e82d2e"/><stop offset="0.9100" stop-color="#e82c2d"/><stop offset="0.9150" stop-color="#e82b2c"/><stop offset="0.9200" stop-color="#e82a2b"/><stop offset="0.9250" stop-color="#e8292a"/><stop offset="0.9300" stop-color="#e82829"/><stop offset="0.9350" stop-color="#e82728"/><stop offset="0.9400" stop-color="#e82627"/><stop offset="0.9450" stop-color="#e82526"/><stop offset="0.9500" stop-color="#e82425"/><stop offset="0.9550" stop-color="#e82324"/><stop offset="0.9600" stop-color="#e82123"/><stop offset="0.9650" stop-color="#e82022"/><stop offset="0.9700" stop-color="#e81f21"/><stop offset="0.9750" stop-color="#e81e20"/><stop offset="0.9800" stop-color="#e81d1f"/><stop offset="0.9850" stop-color="#e81c1e"/><stop offset="0.9900" stop-color="#e81b1d"/><stop offset="0.9950" stop-color="#e81a1c"/><stop offset="1.0000" stop-color="#e8191b"/></linearGradient></defs>
<rect x="933.2" y="30.5" width="303.2" height="10.9" fill="url(#cbg)"/>
<rect x="933.2" y="30.5" width="303.2" height="10.9" fill="none" stroke="#333" stroke-width="1.2"/>
<line x1="936.30" y1="41.5" x2="936.30" y2="46.5" stroke="#ccc" stroke-width="1"/>
<text x="936.30" y="58" text-anchor="middle" style="font-family:'Liberation Serif',serif;font-weight:bold;font-size:12.5px" fill="#000">0.00</text>
<line x1="978.41" y1="41.5" x2="978.41" y2="46.5" stroke="#444" stroke-width="1"/>
<text x="978.41" y="58" text-anchor="middle" style="font-family:'Liberation Serif',serif;font-weight:bold;font-size:12.5px" fill="#000">0.58</text>
<line x1="1081.50" y1="41.5" x2="1081.50" y2="46.5" stroke="#ccc" stroke-width="1"/>
<text x="1081.50" y="58" text-anchor="middle" style="font-family:'Liberation Serif',serif;font-weight:bold;font-size:12.5px" fill="#000">2.00</text>
<text x="1225.30" y="58" text-anchor="middle" style="font-family:'Liberation Serif',serif;font-weight:bold;font-size:12.5px" fill="#000">4.00</text>
<rect x="934.40" y="65.70" width="38.15" height="58.87" fill="#80ba80"/>
<rect x="972.15" y="65.70" width="38.15" height="58.87" fill="#ffffff"/>
<rect x="1009.90" y="65.70" width="38.15" height="58.87" fill="#a8cfa7"/>
<rect x="1047.65" y="65.70" width="38.15" height="58.87" fill="#f5b5b5"/>
<rect x="1085.40" y="65.70" width="38.15" height="58.87" fill="#f6c4c5"/>
<rect x="1123.15" y="65.70" width="38.15" height="58.87" fill="#86b986"/>
<rect x="1160.90" y="65.70" width="38.15" height="58.87" fill="#ffffff"/>
<rect x="1198.65" y="65.70" width="38.15" height="58.87" fill="#e6f0e4"/>
<rect x="934.40" y="124.17" width="38.15" height="58.87" fill="#479a45"/>
<rect x="972.15" y="124.17" width="38.15" height="58.87" fill="#fcebea"/>
<rect x="1009.90" y="124.17" width="38.15" height="58.87" fill="#58a65a"/>
<rect x="1047.65" y="124.17" width="38.15" height="58.87" fill="#fadede"/>
<rect x="1085.40" y="124.17" width="38.15" height="58.87" fill="#aed3ac"/>
<rect x="1123.15" y="124.17" width="38.15" height="58.87" fill="#fdf8f7"/>
<rect x="1160.90" y="124.17" width="38.15" height="58.87" fill="#ffffff"/>
<rect x="1198.65" y="124.17" width="38.15" height="58.87" fill="#1a7b3b"/>
<rect x="934.40" y="182.64" width="38.15" height="58.87" fill="#f6c0c0"/>
<rect x="972.15" y="182.64" width="38.15" height="58.87" fill="#e83535"/>
<rect x="1009.90" y="182.64" width="38.15" height="58.87" fill="#e85252"/>
<rect x="1047.65" y="182.64" width="38.15" height="58.87" fill="#e83838"/>
<rect x="1085.40" y="182.64" width="38.15" height="58.87" fill="#e8191b"/>
<rect x="1123.15" y="182.64" width="38.15" height="58.87" fill="#e83d3d"/>
<rect x="1160.90" y="182.64" width="38.15" height="58.87" fill="#f6c6c6"/>
<rect x="1198.65" y="182.64" width="38.15" height="58.87" fill="#e83535"/>
<rect x="934.40" y="241.11" width="38.15" height="58.87" fill="#e8f1e6"/>
<rect x="972.15" y="241.11" width="38.15" height="58.87" fill="#7cba7c"/>
<rect x="1009.90" y="241.11" width="38.15" height="58.87" fill="#78b778"/>
<rect x="1047.65" y="241.11" width="38.15" height="58.87" fill="#fbdde0"/>
<rect x="1085.40" y="241.11" width="38.15" height="58.87" fill="#d3e6d2"/>
<rect x="1123.15" y="241.11" width="38.15" height="58.87" fill="#fce8e8"/>
<rect x="1160.90" y="241.11" width="38.15" height="58.87" fill="#c6e0c4"/>
<rect x="1198.65" y="241.11" width="38.15" height="58.87" fill="#fdf5f5"/>
<rect x="934.40" y="299.59" width="38.15" height="58.87" fill="#f8faf8"/>
<rect x="972.15" y="299.59" width="38.15" height="58.87" fill="#f6bfc0"/>
<rect x="1009.90" y="299.59" width="38.15" height="58.87" fill="#fadadc"/>
<rect x="1047.65" y="299.59" width="38.15" height="58.87" fill="#f3aaab"/>
<rect x="1085.40" y="299.59" width="38.15" height="58.87" fill="#fadcdd"/>
<rect x="1123.15" y="299.59" width="38.15" height="58.87" fill="#f9d0d0"/>
<rect x="1160.90" y="299.59" width="38.15" height="58.87" fill="#fbe5e5"/>
<rect x="1198.65" y="299.59" width="38.15" height="58.87" fill="#fdefef"/>
<rect x="934.40" y="358.06" width="38.15" height="58.87" fill="#1a7b3b"/>
<rect x="972.15" y="358.06" width="38.15" height="58.87" fill="#65a865"/>
<rect x="1009.90" y="358.06" width="38.15" height="58.87" fill="#1a7b3b"/>
<rect x="1047.65" y="358.06" width="38.15" height="58.87" fill="#fdeeee"/>
<rect x="1085.40" y="358.06" width="38.15" height="58.87" fill="#8ec28e"/>
<rect x="1123.15" y="358.06" width="38.15" height="58.87" fill="#f6bfbf"/>
<rect x="1160.90" y="358.06" width="38.15" height="58.87" fill="#1a833d"/>
<rect x="1198.65" y="358.06" width="38.15" height="58.87" fill="#badaba"/>
<rect x="934.40" y="416.53" width="38.15" height="58.87" fill="#6fb070"/>
<rect x="972.15" y="416.53" width="38.15" height="58.87" fill="#fbdede"/>
<rect x="1009.90" y="416.53" width="38.15" height="58.87" fill="#fbe2e2"/>
<rect x="1047.65" y="416.53" width="38.15" height="58.87" fill="#fefcfa"/>
<rect x="1085.40" y="416.53" width="38.15" height="58.87" fill="#fae0e0"/>
<rect x="1123.15" y="416.53" width="38.15" height="58.87" fill="#f8d6d5"/>
<rect x="1160.90" y="416.53" width="38.15" height="58.87" fill="#fef1f1"/>
<rect x="1198.65" y="416.53" width="38.15" height="58.87" fill="#70b070"/>
<text x="953.27" y="99.24" text-anchor="middle" style="font-family:'Liberation Serif',serif;font-weight:bold;font-size:12.5px" fill="#000">0.28</text>
<text x="991.02" y="99.24" text-anchor="middle" style="font-family:'Liberation Serif',serif;font-weight:bold;font-size:12.5px" fill="#000">0.59</text>
<text x="1028.78" y="99.24" text-anchor="middle" style="font-family:'Liberation Serif',serif;font-weight:bold;font-size:12.5px" fill="#000">0.38</text>
<text x="1066.53" y="99.24" text-anchor="middle" style="font-family:'Liberation Serif',serif;font-weight:bold;font-size:12.5px" fill="#000">1.53</text>
<text x="1104.28" y="99.24" text-anchor="middle" style="font-family:'Liberation Serif',serif;font-weight:bold;font-size:12.5px" fill="#000">1.32</text>
<text x="1142.03" y="99.24" text-anchor="middle" style="font-family:'Liberation Serif',serif;font-weight:bold;font-size:12.5px" fill="#000">0.29</text>
<text x="1179.78" y="99.24" text-anchor="middle" style="font-family:'Liberation Serif',serif;font-weight:bold;font-size:12.5px" fill="#000">0.57</text>
<text x="1217.53" y="99.24" text-anchor="middle" style="font-family:'Liberation Serif',serif;font-weight:bold;font-size:12.5px" fill="#000">0.53</text>
<text x="953.27" y="157.71" text-anchor="middle" style="font-family:'Liberation Serif',serif;font-weight:bold;font-size:12.5px" fill="#fff">0.13</text>
<text x="991.02" y="157.71" text-anchor="middle" style="font-family:'Liberation Serif',serif;font-weight:bold;font-size:12.5px" fill="#000">0.80</text>
<text x="1028.78" y="157.71" text-anchor="middle" style="font-family:'Liberation Serif',serif;font-weight:bold;font-size:12.5px" fill="#000">0.19</text>
<text x="1066.53" y="157.71" text-anchor="middle" style="font-family:'Liberation Serif',serif;font-weight:bold;font-size:12.5px" fill="#000">0.97</text>
<text x="1104.28" y="157.71" text-anchor="middle" style="font-family:'Liberation Serif',serif;font-weight:bold;font-size:12.5px" fill="#000">0.39</text>
<text x="1142.03" y="157.71" text-anchor="middle" style="font-family:'Liberation Serif',serif;font-weight:bold;font-size:12.5px" fill="#000">0.65</text>
<text x="1179.78" y="157.71" text-anchor="middle" style="font-family:'Liberation Serif',serif;font-weight:bold;font-size:12.5px" fill="#000">0.57</text>
<text x="1217.53" y="157.71" text-anchor="middle" style="font-family:'Liberation Serif',serif;font-weight:bold;font-size:12.5px" fill="#fff">-0.03</text>
<text x="953.27" y="216.18" text-anchor="middle" style="font-family:'Liberation Serif',serif;font-weight:bold;font-size:12.5px" fill="#000">1.43</text>
<text x="991.02" y="216.18" text-anchor="middle" style="font-family:'Liberation Serif',serif;font-weight:bold;font-size:12.5px" fill="#fff">3.56</text>
<text x="1028.78" y="216.18" text-anchor="middle" style="font-family:'Liberation Serif',serif;font-weight:bold;font-size:12.5px" fill="#000">3.05</text>
<text x="1066.53" y="216.18" text-anchor="middle" style="font-family:'Liberation Serif',serif;font-weight:bold;font-size:12.5px" fill="#fff">3.45</text>
<text x="1104.28" y="216.18" text-anchor="middle" style="font-family:'Liberation Serif',serif;font-weight:bold;font-size:12.5px" fill="#fff">4.13</text>
<text x="1142.03" y="216.18" text-anchor="middle" style="font-family:'Liberation Serif',serif;font-weight:bold;font-size:12.5px" fill="#fff">3.38</text>
<text x="1179.78" y="216.18" text-anchor="middle" style="font-family:'Liberation Serif',serif;font-weight:bold;font-size:12.5px" fill="#000">1.29</text>
<text x="1217.53" y="216.18" text-anchor="middle" style="font-family:'Liberation Serif',serif;font-weight:bold;font-size:12.5px" fill="#fff">3.60</text>
<text x="953.27" y="274.65" text-anchor="middle" style="font-family:'Liberation Serif',serif;font-weight:bold;font-size:12.5px" fill="#000">0.53</text>
<text x="991.02" y="274.65" text-anchor="middle" style="font-family:'Liberation Serif',serif;font-weight:bold;font-size:12.5px" fill="#000">0.27</text>
<text x="1028.78" y="274.65" text-anchor="middle" style="font-family:'Liberation Serif',serif;font-weight:bold;font-size:12.5px" fill="#000">0.27</text>
<text x="1066.53" y="274.65" text-anchor="middle" style="font-family:'Liberation Serif',serif;font-weight:bold;font-size:12.5px" fill="#000">0.98</text>
<text x="1104.28" y="274.65" text-anchor="middle" style="font-family:'Liberation Serif',serif;font-weight:bold;font-size:12.5px" fill="#000">0.47</text>
<text x="1142.03" y="274.65" text-anchor="middle" style="font-family:'Liberation Serif',serif;font-weight:bold;font-size:12.5px" fill="#000">0.83</text>
<text x="1179.78" y="274.65" text-anchor="middle" style="font-family:'Liberation Serif',serif;font-weight:bold;font-size:12.5px" fill="#000">0.45</text>
<text x="1217.53" y="274.65" text-anchor="middle" style="font-family:'Liberation Serif',serif;font-weight:bold;font-size:12.5px" fill="#000">0.68</text>
<text x="953.27" y="333.12" text-anchor="middle" style="font-family:'Liberation Serif',serif;font-weight:bold;font-size:12.5px" fill="#000">0.55</text>
<text x="991.02" y="333.12" text-anchor="middle" style="font-family:'Liberation Serif',serif;font-weight:bold;font-size:12.5px" fill="#000">1.41</text>
<text x="1028.78" y="333.12" text-anchor="middle" style="font-family:'Liberation Serif',serif;font-weight:bold;font-size:12.5px" fill="#000">1.05</text>
<text x="1066.53" y="333.12" text-anchor="middle" style="font-family:'Liberation Serif',serif;font-weight:bold;font-size:12.5px" fill="#000">1.70</text>
<text x="1104.28" y="333.12" text-anchor="middle" style="font-family:'Liberation Serif',serif;font-weight:bold;font-size:12.5px" fill="#000">1.04</text>
<text x="1142.03" y="333.12" text-anchor="middle" style="font-family:'Liberation Serif',serif;font-weight:bold;font-size:12.5px" fill="#000">1.18</text>
<text x="1179.78" y="333.12" text-anchor="middle" style="font-family:'Liberation Serif',serif;font-weight:bold;font-size:12.5px" fill="#000">0.89</text>
<text x="1217.53" y="333.12" text-anchor="middle" style="font-family:'Liberation Serif',serif;font-weight:bold;font-size:12.5px" fill="#000">0.75</text>
<text x="953.27" y="391.59" text-anchor="middle" style="font-family:'Liberation Serif',serif;font-weight:bold;font-size:12.5px" fill="#fff">-0.03</text>
<text x="991.02" y="391.59" text-anchor="middle" style="font-family:'Liberation Serif',serif;font-weight:bold;font-size:12.5px" fill="#000">0.21</text>
<text x="1028.78" y="391.59" text-anchor="middle" style="font-family:'Liberation Serif',serif;font-weight:bold;font-size:12.5px" fill="#fff">-0.03</text>
<text x="1066.53" y="391.59" text-anchor="middle" style="font-family:'Liberation Serif',serif;font-weight:bold;font-size:12.5px" fill="#000">0.77</text>
<text x="1104.28" y="391.59" text-anchor="middle" style="font-family:'Liberation Serif',serif;font-weight:bold;font-size:12.5px" fill="#000">0.32</text>
<text x="1142.03" y="391.59" text-anchor="middle" style="font-family:'Liberation Serif',serif;font-weight:bold;font-size:12.5px" fill="#000">1.39</text>
<text x="1179.78" y="391.59" text-anchor="middle" style="font-family:'Liberation Serif',serif;font-weight:bold;font-size:12.5px" fill="#fff">0.02</text>
<text x="1217.53" y="391.59" text-anchor="middle" style="font-family:'Liberation Serif',serif;font-weight:bold;font-size:12.5px" fill="#000">0.43</text>
<text x="953.27" y="450.06" text-anchor="middle" style="font-family:'Liberation Serif',serif;font-weight:bold;font-size:12.5px" fill="#000">0.24</text>
<text x="991.02" y="450.06" text-anchor="middle" style="font-family:'Liberation Serif',serif;font-weight:bold;font-size:12.5px" fill="#000">0.93</text>
<text x="1028.78" y="450.06" text-anchor="middle" style="font-family:'Liberation Serif',serif;font-weight:bold;font-size:12.5px" fill="#000">0.92</text>
<text x="1066.53" y="450.06" text-anchor="middle" style="font-family:'Liberation Serif',serif;font-weight:bold;font-size:12.5px" fill="#000">0.62</text>
<text x="1104.28" y="450.06" text-anchor="middle" style="font-family:'Liberation Serif',serif;font-weight:bold;font-size:12.5px" fill="#000">0.92</text>
<text x="1142.03" y="450.06" text-anchor="middle" style="font-family:'Liberation Serif',serif;font-weight:bold;font-size:12.5px" fill="#000">1.06</text>
<text x="1179.78" y="450.06" text-anchor="middle" style="font-family:'Liberation Serif',serif;font-weight:bold;font-size:12.5px" fill="#000">0.72</text>
<text x="1217.53" y="450.06" text-anchor="middle" style="font-family:'Liberation Serif',serif;font-weight:bold;font-size:12.5px" fill="#000">0.25</text>
<path d="M934.4,475.0 V65.7 H1236.4 V475.0" fill="none" stroke="#8a8a8a" stroke-width="1.1"/>
<line x1="933.9" y1="475.5" x2="1236.9" y2="475.5" stroke="#231815" stroke-width="1.1"/>
<line x1="930.5" y1="94.94" x2="934.4" y2="94.94" stroke="#bbb" stroke-width="1"/>
<text x="927" y="99.94" text-anchor="end" style="font-family:'Liberation Serif',serif;font-weight:bold;font-size:12.85px" fill="#000">gene-DR999_PMT20441</text>
<text x="775" y="99.94" text-anchor="end" style="font-family:'Liberation Serif',serif;font-weight:bold;font-size:12.5px" fill="#000">NEF</text>
<line x1="930.5" y1="153.41" x2="934.4" y2="153.41" stroke="#333" stroke-width="1"/>
<text x="927" y="158.41" text-anchor="end" style="font-family:'Liberation Serif',serif;font-weight:bold;font-size:12.85px" fill="#000">gene-DR999_PMT13171</text>
<text x="775" y="158.41" text-anchor="end" style="font-family:'Liberation Serif',serif;font-weight:bold;font-size:12.5px" fill="#000">ERP57</text>
<line x1="930.5" y1="211.88" x2="934.4" y2="211.88" stroke="#bbb" stroke-width="1"/>
<text x="927" y="216.88" text-anchor="end" style="font-family:'Liberation Serif',serif;font-weight:bold;font-size:12.85px" fill="#000">gene-DR999_PMT11135</text>
<text x="775" y="216.88" text-anchor="end" style="font-family:'Liberation Serif',serif;font-weight:bold;font-size:12.5px" fill="#000">NEF</text>
<line x1="930.5" y1="270.35" x2="934.4" y2="270.35" stroke="#333" stroke-width="1"/>
<text x="927" y="275.35" text-anchor="end" style="font-family:'Liberation Serif',serif;font-weight:bold;font-size:12.85px" fill="#000">gene-DR999_PMT10638</text>
<text x="775" y="275.35" text-anchor="end" style="font-family:'Liberation Serif',serif;font-weight:bold;font-size:12.5px" fill="#000">DSK2</text>
<line x1="930.5" y1="328.82" x2="934.4" y2="328.82" stroke="#bbb" stroke-width="1"/>
<text x="927" y="333.82" text-anchor="end" style="font-family:'Liberation Serif',serif;font-weight:bold;font-size:12.85px" fill="#000">gene-DR999_PMT08617</text>
<text x="775" y="333.82" text-anchor="end" style="font-family:'Liberation Serif',serif;font-weight:bold;font-size:12.5px" fill="#000">BiP</text>
<line x1="930.5" y1="387.29" x2="934.4" y2="387.29" stroke="#333" stroke-width="1"/>
<text x="927" y="392.29" text-anchor="end" style="font-family:'Liberation Serif',serif;font-weight:bold;font-size:12.85px" fill="#000">gene-DR999_PMT07568</text>
<text x="775" y="392.29" text-anchor="end" style="font-family:'Liberation Serif',serif;font-weight:bold;font-size:12.5px" fill="#000">p97</text>
<line x1="930.5" y1="445.76" x2="934.4" y2="445.76" stroke="#bbb" stroke-width="1"/>
<text x="927" y="450.76" text-anchor="end" style="font-family:'Liberation Serif',serif;font-weight:bold;font-size:12.85px" fill="#000">gene-DR999_PMT02044</text>
<text x="775" y="450.76" text-anchor="end" style="font-family:'Liberation Serif',serif;font-weight:bold;font-size:12.5px" fill="#000">Hsp40</text>
<line x1="953.27" y1="475.0" x2="953.27" y2="479.5" stroke="#222" stroke-width="1.1"/>
<text transform="translate(957.67,482.7) rotate(-90)" text-anchor="end" style="font-family:'Liberation Serif',serif;font-weight:bold;font-size:12.5px" fill="#000">Brain</text>
<line x1="991.02" y1="475.0" x2="991.02" y2="479.5" stroke="#222" stroke-width="1.1"/>
<text transform="translate(995.42,482.7) rotate(-90)" text-anchor="end" style="font-family:'Liberation Serif',serif;font-weight:bold;font-size:12.5px" fill="#000">Heart</text>
<line x1="1028.78" y1="475.0" x2="1028.78" y2="479.5" stroke="#ccc" stroke-width="1.1"/>
<text transform="translate(1033.18,482.7) rotate(-90)" text-anchor="end" style="font-family:'Liberation Serif',serif;font-weight:bold;font-size:12.5px" fill="#000">Intestine</text>
<line x1="1066.53" y1="475.0" x2="1066.53" y2="479.5" stroke="#222" stroke-width="1.1"/>
<text transform="translate(1070.93,482.7) rotate(-90)" text-anchor="end" style="font-family:'Liberation Serif',serif;font-weight:bold;font-size:12.5px" fill="#000">Liver</text>
<line x1="1104.28" y1="475.0" x2="1104.28" y2="479.5" stroke="#222" stroke-width="1.1"/>
<text transform="translate(1108.68,482.7) rotate(-90)" text-anchor="end" style="font-family:'Liberation Serif',serif;font-weight:bold;font-size:12.5px" fill="#000">Lung</text>
<line x1="1142.03" y1="475.0" x2="1142.03" y2="479.5" stroke="#ccc" stroke-width="1.1"/>
<text transform="translate(1146.43,482.7) rotate(-90)" text-anchor="end" style="font-family:'Liberation Serif',serif;font-weight:bold;font-size:12.5px" fill="#000">Muscle</text>
<line x1="1179.78" y1="475.0" x2="1179.78" y2="479.5" stroke="#222" stroke-width="1.1"/>
<text transform="translate(1184.18,482.7) rotate(-90)" text-anchor="end" style="font-family:'Liberation Serif',serif;font-weight:bold;font-size:12.5px" fill="#000">Spleen</text>
<line x1="1217.53" y1="475.0" x2="1217.53" y2="479.5" stroke="#222" stroke-width="1.1"/>
<text transform="translate(1221.93,482.7) rotate(-90)" text-anchor="end" style="font-family:'Liberation Serif',serif;font-weight:bold;font-size:12.5px" fill="#000">Stomach</text>
<text x="735" y="494.3" style="font-family:'Liberation Serif',serif;font-weight:bold;font-size:15.7px" fill="#000">Protein</text>
<text x="840.3" y="494.3" style="font-family:'Liberation Serif',serif;font-weight:bold;font-size:15.7px" fill="#000">Gene</text>
</svg></body></html>
